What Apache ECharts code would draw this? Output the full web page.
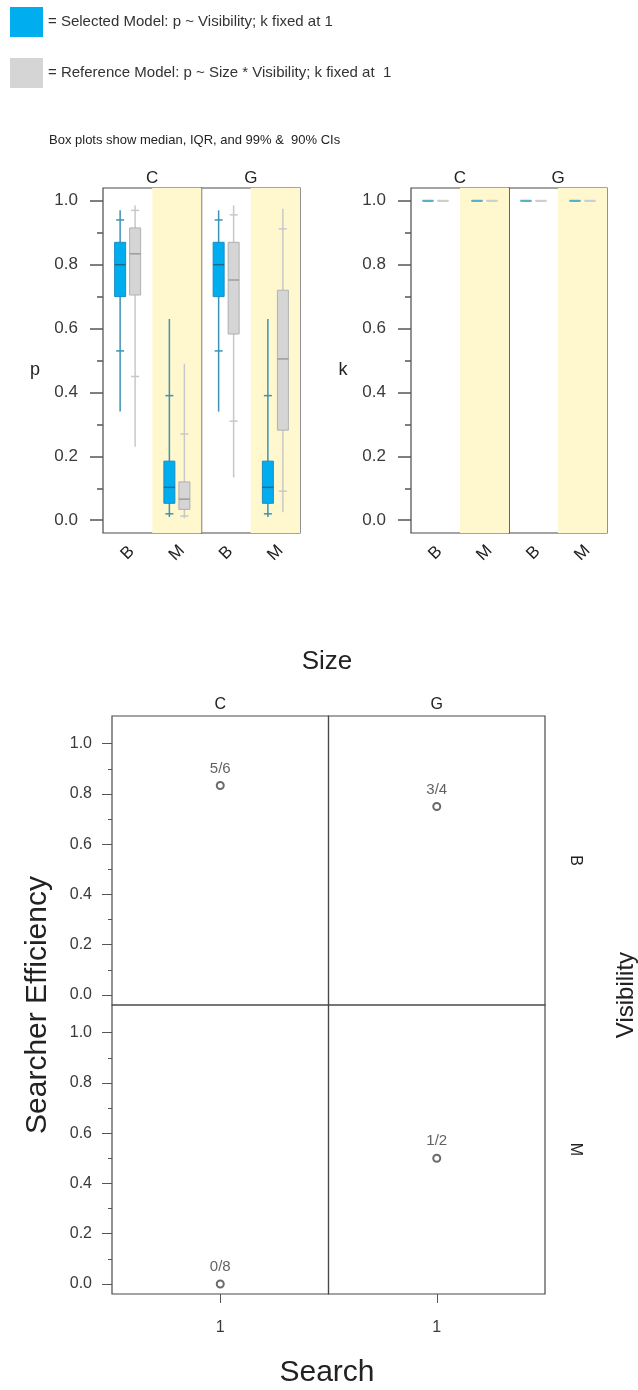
<!DOCTYPE html>
<html><head><meta charset="utf-8">
<script src="https://cdn.jsdelivr.net/npm/echarts@6/dist/echarts.min.js"></script>
<style>html,body{margin:0;padding:0;background:#fff}#c{width:638px;height:1390px}</style>
</head><body><div id="c"></div>
<script>
// ================= DATA =================
const sizeLevels = ['C', 'G'];          // facet strips (Size)
const visLevels = ['B', 'M'];           // x categories (Visibility)
const searchLevels = ['1'];             // Search occasions

// p posterior summaries: [lo99, lo90, q1, median, q3, hi90, hi99]
const pSelected_CB  = [0.34, 0.53, 0.70, 0.80, 0.87, 0.94, 0.97];
const pSelected_CM  = [0.01, 0.02, 0.053, 0.103, 0.185, 0.39, 0.63];
const pSelected_GB  = [0.34, 0.53, 0.70, 0.80, 0.87, 0.94, 0.97];
const pSelected_GM  = [0.01, 0.02, 0.053, 0.103, 0.185, 0.39, 0.63];
const pReference_CB = [0.23, 0.45, 0.705, 0.834, 0.915, 0.97, 0.985];
const pReference_CM = [0.006, 0.013, 0.034, 0.066, 0.12, 0.27, 0.49];
const pReference_GB = [0.134, 0.31, 0.583, 0.752, 0.87, 0.956, 0.985];
const pReference_GM = [0.025, 0.091, 0.282, 0.505, 0.72, 0.912, 0.975];

// k fixed at 1 in both models
const kSelected  = [1, 1, 1, 1, 1, 1, 1];
const kReference = [1, 1, 1, 1, 1, 1, 1];

// observed searcher efficiency, order: (C,B), (G,B), (C,M), (G,M)
const obsFound = [5, 3, 0, 1];
const obsTotal = [6, 4, 8, 2];

const selName = '= Selected Model: p ~ Visibility; k fixed at 1';
const refName = '= Reference Model: p ~ Size * Visibility; k fixed at  1';
const noteText = 'Box plots show median, IQR, and 99% &  90% CIs';

// ================= LAYOUT / STYLE =================
const FONT = '"Liberation Sans", Arial, Helvetica, sans-serif';
const TXT = '#3a3a3a';
const BLUE = {fill: '#00AEEF', border: '#1C8CC4', whisker: '#3C93B4', median: '#1A6A8E', mw: 1.5};
const GRAY = {fill: '#D5D5D5', border: '#B0B0B0', whisker: '#C8C8C8', median: '#9C9C9C', mw: 1.5};
const BLUE_K = {fill: '#00AEEF', border: '#5AAFC6', whisker: '#5AAFC6', median: '#5AAFC6', mw: 2};
const GRAY_K = {fill: '#D5D5D5', border: '#CDCDCD', whisker: '#CDCDCD', median: '#CDCDCD', mw: 2};
const YELLOW = '#FFF8CF';

const P_BOX = {x: 103, y: 188, w: 197, h: 345};
const K_BOX = {x: 411, y: 188, w: 196, h: 345};
const S_BOX = {x: 112, y: 716, w: 433, h: 578};
const P_RANGE = [-0.04, 1.04];
const S_RANGE = [-0.04, 1.11];

const grids = [], xAxes = [], yAxes = [], series = [], graphics = [];

function addFrame(r, yr, cats, xOpt) {
  const gi = grids.length;
  grids.push({left: r.x, top: r.y, width: r.w, height: r.h, show: true,
    borderColor: '#4a4a4a', borderWidth: 1.2, backgroundColor: 'rgba(0,0,0,0)'});
  xAxes.push(Object.assign({type: 'category', gridIndex: gi, data: cats, boundaryGap: true,
    axisLine: {show: false, onZero: false}, axisTick: {show: false}, axisLabel: {show: false},
    splitLine: {show: false}, splitArea: {show: false}}, xOpt || {}));
  yAxes.push({type: 'value', gridIndex: gi, min: yr[0], max: yr[1],
    axisLine: {show: false, onZero: false}, axisTick: {show: false}, axisLabel: {show: false}, splitLine: {show: false}});
  return gi;
}

function addData(r, yr, cats, yOpt) {
  const gi = grids.length;
  const span = yr[1] - yr[0];
  const top = r.y + r.h * (yr[1] - 1) / span;
  const h = r.h / span;
  grids.push({left: r.x, top: top, width: r.w, height: h, show: false});
  xAxes.push({type: 'category', gridIndex: gi, data: cats, boundaryGap: true,
    axisLine: {show: false, onZero: false}, axisTick: {show: false}, axisLabel: {show: false}, splitLine: {show: false}});
  const show = !!yOpt;
  const o = yOpt || {};
  yAxes.push({type: 'value', gridIndex: gi, min: 0, max: 1, interval: 0.2,
    axisLine: {show: false, onZero: false},
    axisTick: {show: show, length: o.major, lineStyle: {color: '#555', width: o.lw}},
    minorTick: {show: show, splitNumber: 2, length: o.minor, lineStyle: {color: '#555', width: o.lw}},
    axisLabel: {show: show, margin: o.margin, fontSize: o.fs, color: TXT, fontFamily: FONT,
      formatter: v => v.toFixed(1)},
    splitLine: {show: false}, minorSplitLine: {show: false}});
  return gi;
}

function boxSeries(gi, rows, offset, col, name) {
  return {
    type: 'custom', name: name, xAxisIndex: gi, yAxisIndex: gi,
    itemStyle: {color: col.fill},
    encode: {x: 0, y: [1, 2, 3, 4, 5, 6, 7]},
    data: rows.map((q, i) => [i].concat(q)),
    renderItem: function (params, api) {
      const c = api.value(0);
      const x0 = api.coord([c, 0])[0] + offset;
      const y = d => api.coord([c, api.value(d)])[1];
      const lo99 = y(1), lo90 = y(2), q1 = y(3), med = y(4), q3 = y(5), hi90 = y(6), hi99 = y(7);
      const bw = 11, cw = 4;
      return {type: 'group', children: [
        {type: 'line', shape: {x1: x0, y1: lo99, x2: x0, y2: hi99}, style: {stroke: col.whisker, lineWidth: 1.5}},
        {type: 'line', shape: {x1: x0 - cw, y1: lo90, x2: x0 + cw, y2: lo90}, style: {stroke: col.whisker, lineWidth: 1.5}},
        {type: 'line', shape: {x1: x0 - cw, y1: hi90, x2: x0 + cw, y2: hi90}, style: {stroke: col.whisker, lineWidth: 1.5}},
        {type: 'rect', shape: {x: x0 - bw / 2, y: q3, width: bw, height: q1 - q3}, style: {fill: col.fill, stroke: col.border, lineWidth: 1}},
        {type: 'line', shape: {x1: x0 - bw / 2, y1: med, x2: x0 + bw / 2, y2: med}, style: {stroke: col.median, lineWidth: col.mw}}
      ]};
    }
  };
}

function text(str, x, y, fs, rot, align) {
  graphics.push({type: 'text', x: x, y: y, rotation: rot || 0,
    style: {text: str, x: 0, y: 0, fill: '#222', font: fs + 'px ' + FONT,
      textAlign: align || 'center', align: align || 'center',
      textVerticalAlign: 'middle', verticalAlign: 'middle'}});
}

// ---------- top panels (p and k) ----------
function facetPanels(box, selRows, refRows, selCol, refCol, yLabel, yLabelX) {
  const fw = box.w / 2;
  sizeLevels.forEach((s, fi) => {
    const r = {x: box.x + fi * fw, y: box.y, w: fw, h: box.h};
    addFrame(r, P_RANGE, visLevels, {
      axisLabel: {show: true, rotate: 45, margin: 20, interval: 0, align: 'center', verticalAlign: 'middle',
        fontSize: 17, color: '#222', fontFamily: FONT},
      splitArea: {show: true, areaStyle: {color: ['rgba(255,255,255,0)', YELLOW]}}
    });
    const gi = addData(r, P_RANGE, visLevels,
      fi === 0 ? {major: 13, minor: 6, lw: 1.5, margin: 25, fs: 17} : null);
    series.push(boxSeries(gi, selRows[fi], -7.5, selCol, selName));
    series.push(boxSeries(gi, refRows[fi], 7.5, refCol, refName));
    text(s, r.x + fw / 2, box.y - 10, 17);
  });
  text(yLabel, yLabelX, box.y + box.h / 2 + 10, 18);
}

facetPanels(P_BOX,
  [[pSelected_CB, pSelected_CM], [pSelected_GB, pSelected_GM]],
  [[pReference_CB, pReference_CM], [pReference_GB, pReference_GM]],
  BLUE, GRAY, 'p', 35);
facetPanels(K_BOX,
  [[kSelected, kSelected], [kSelected, kSelected]],
  [[kReference, kReference], [kReference, kReference]],
  BLUE_K, GRAY_K, 'k', 343);

// ---------- bottom panels (observed searcher efficiency) ----------
const cw = S_BOX.w / 2, rh = S_BOX.h / 2;
let idx = 0;
visLevels.forEach((v, ri) => {
  sizeLevels.forEach((s, ci) => {
    const r = {x: S_BOX.x + ci * cw, y: S_BOX.y + ri * rh, w: cw, h: rh};
    const bottomRow = ri === visLevels.length - 1;
    addFrame(r, S_RANGE, searchLevels, bottomRow ? {
      axisTick: {show: true, alignWithLabel: true, length: 9, lineStyle: {color: '#555'}},
      axisLabel: {show: true, margin: 26, fontSize: 16, color: TXT, fontFamily: FONT}
    } : {});
    const gi = addData(r, S_RANGE, searchLevels,
      ci === 0 ? {major: 10, minor: 4, lw: 1, margin: 20, fs: 16} : null);
    const f = obsFound[idx], t = obsTotal[idx];
    series.push({type: 'scatter', name: 'obs', xAxisIndex: gi, yAxisIndex: gi,
      symbol: 'emptyCircle', symbolSize: 7, itemStyle: {color: '#444', borderWidth: 1},
      label: {show: true, position: 'top', distance: 5, formatter: f + '/' + t,
        fontSize: 15, color: TXT, fontFamily: FONT},
      data: [[searchLevels[0], f / t]]});
    if (ri === 0) text(s, r.x + cw / 2, S_BOX.y - 11, 16);
    if (ci === sizeLevels.length - 1) text(v, 575, r.y + rh / 2, 16, -Math.PI / 2);
    idx++;
  });
});

text(noteText, 49, 140, 13, 0, 'left');
text('Size', 327, 662, 26);
text('Search', 327, 1373, 30);
text('Searcher Efficiency', 38, 1005, 30, Math.PI / 2);
text('Visibility', 626, 995, 24, Math.PI / 2);

const chart = echarts.init(document.getElementById('c'), null, {renderer: 'canvas'});
chart.setOption({
  animation: false,
  backgroundColor: '#fff',
  textStyle: {fontFamily: FONT},
  legend: {
    data: [{name: selName, icon: 'rect'}, {name: refName, icon: 'rect'}],
    orient: 'vertical', left: 10, top: 7, padding: 0, itemWidth: 33, itemHeight: 30, itemGap: 21,
    selectedMode: false,
    textStyle: {fontSize: 15, color: '#333', fontFamily: FONT}
  },
  grid: grids, xAxis: xAxes, yAxis: yAxes, series: series,
  graphic: {elements: graphics}
});
</script></body></html>
